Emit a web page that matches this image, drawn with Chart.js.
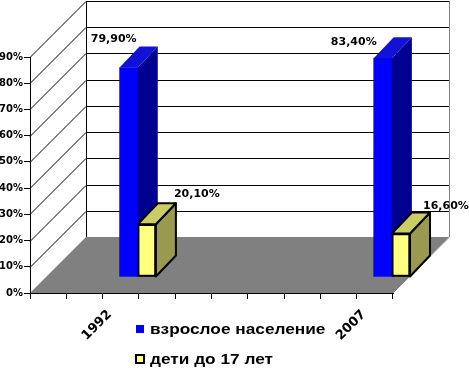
<!DOCTYPE html>
<html>
<head>
<meta charset="utf-8">
<script src="https://cdn.jsdelivr.net/npm/chart.js@4.4.1/dist/chart.umd.min.js"></script>
<style>
html, body { margin: 0; padding: 0; background: #fff; }
#chart { display: block; }
</style>
</head>
<body>
<canvas id="chart" width="469" height="368"></canvas>
<script>
// data
const slots = ['', '', '1992', '', '', '', '', '', '', '2007'];
const years = ['1992', '2007'];
const adults = [79.9, 83.4];
const children = [20.1, 16.6];
const seriesNames = ['взрослое население', 'дети до 17 лет'];
const yMax = 90;
const yStep = 10;

const FONT = '"DejaVu Sans", Arial, sans-serif';

// put each year's value in its slot on the axis
function bySlot(values) {
    return slots.map(function(s) {
        var i = years.indexOf(s);
        return i < 0 ? null : values[i];
    });
}

function fmt(v) {
    return v.toFixed(2).replace('.', ',') + '%';
}

var wall = { dx: 56, dy: -56 };    // back wall depth
var row = { dx: 17, dy: -16 };     // where the bar row stands
var deep = { dx: 20, dy: -21 };    // bar thickness

var faces = [
    { side: '#000090', top: '#1212d6', stroke: null },
    { side: '#99994f', top: '#cccc66', stroke: '#000' }
];

// label offsets from each bar's top
var labelShift = [
    [[-15, -28], [-29, -16]],
    [[50, -30], [45, -27]]
];

/*===== walls and floor =====*/
const wallsPlugin = {
    id: 'walls',
    beforeDraw(chart) {
        const ctx = chart.ctx;
        const a = chart.chartArea;
        const ys = chart.scales.y;
        const L = a.left, R = a.right, B = a.bottom, T = a.top;
        const dx = wall.dx, dy = wall.dy;

        ctx.save();
        // floor
        ctx.fillStyle = '#808080';
        ctx.beginPath();
        ctx.moveTo(L, B);
        ctx.lineTo(R, B);
        ctx.lineTo(R + dx, B + dy);
        ctx.lineTo(L + dx, B + dy);
        ctx.closePath();
        ctx.fill();

        ctx.strokeStyle = '#000';
        ctx.lineWidth = 1;
        ys.ticks.forEach(function(t) {
            if (t.value === 0) return;
            var py = Math.round(ys.getPixelForValue(t.value)) + 0.5;
            ctx.beginPath();
            ctx.moveTo(L, py);
            ctx.lineTo(L + dx, py + dy);
            ctx.lineTo(R + dx, py + dy);
            ctx.stroke();
        });

        // back wall edges
        ctx.beginPath();
        ctx.moveTo(L + dx + 0.5, T + dy);
        ctx.lineTo(L + dx + 0.5, B + dy);
        ctx.stroke();
        ctx.strokeStyle = '#808080';
        ctx.beginPath();
        ctx.moveTo(R + dx + 0.5, T + dy);
        ctx.lineTo(R + dx + 0.5, B + dy);
        ctx.lineTo(R, B);
        ctx.stroke();
        ctx.restore();
    }
};

function drawFaces(ctx, bar, f) {
    var dx = deep.dx, dy = deep.dy;
    var p = bar.getProps(['x', 'y', 'base', 'width'], true);
    var l = p.x - p.width / 2, r = p.x + p.width / 2;
    ctx.save();
    ctx.lineJoin = 'round';
    ctx.lineWidth = 2;
    ctx.strokeStyle = f.stroke || f.side;
    // side
    ctx.fillStyle = f.side;
    ctx.beginPath();
    ctx.moveTo(r, p.y);
    ctx.lineTo(r + dx, p.y + dy);
    ctx.lineTo(r + dx, p.base + dy);
    ctx.lineTo(r, p.base);
    ctx.closePath();
    ctx.fill();
    if (f.stroke) ctx.stroke();
    // top
    ctx.fillStyle = f.top;
    ctx.beginPath();
    ctx.moveTo(l, p.y);
    ctx.lineTo(l + dx, p.y + dy);
    ctx.lineTo(r + dx, p.y + dy);
    ctx.lineTo(r, p.y);
    ctx.closePath();
    ctx.fill();
    if (f.stroke) ctx.stroke();
    ctx.restore();
}

/*===== 3D bars =====*/
const depthPlugin = {
    id: 'depth',
    beforeDatasetsDraw(chart) {
        chart.ctx.save();
        chart.ctx.translate(row.dx, row.dy);
    },
    afterDatasetsDraw(chart) {
        const ctx = chart.ctx;
        // left series first, so its side goes behind the next front
        chart.data.datasets.forEach(function(ds, di) {
            var meta = chart.getDatasetMeta(di);
            ds.data.forEach(function(v, i) {
                if (v == null) return;
                if (di > 0) meta.data[i].draw(ctx);
                drawFaces(ctx, meta.data[i], faces[di]);
            });
        });
        ctx.restore();

        // value labels
        ctx.save();
        ctx.font = 'bold 11px ' + FONT;
        ctx.fillStyle = '#000';
        ctx.textAlign = 'center';
        ctx.textBaseline = 'middle';
        chart.data.datasets.forEach(function(ds, di) {
            var meta = chart.getDatasetMeta(di);
            var k = 0;
            ds.data.forEach(function(v, i) {
                if (v == null) return;
                var bar = meta.data[i];
                var s = labelShift[di][k++];
                ctx.fillText(fmt(v), bar.x + row.dx + s[0], bar.y + row.dy + s[1]);
            });
        });
        ctx.restore();
    },
    afterDraw(chart) {
        // legend, two rows under the floor
        const ctx = chart.ctx;
        ctx.save();
        ctx.textBaseline = 'middle';
        chart.data.datasets.forEach(function(ds, i) {
            var y = 329 + i * 30;
            ctx.fillStyle = ds.backgroundColor;
            ctx.fillRect(136, y - 4, 8, 8);
            if (ds.borderWidth) {
                ctx.strokeStyle = '#000';
                ctx.lineWidth = 2;
                ctx.strokeRect(136, y - 4, 8, 8);
            }
            ctx.save();
            ctx.translate(150, y + 1);
            ctx.scale(1.15, 1);
            ctx.font = 'bold 15px "Liberation Sans", Arial, sans-serif';
            ctx.fillStyle = '#000';
            ctx.fillText(ds.label, 0, 0);
            ctx.restore();
        });
        ctx.restore();
    }
};

new Chart(document.getElementById('chart'), {
    type: 'bar',
    data: {
        labels: slots,
        datasets: [{
            label: seriesNames[0],
            data: bySlot(adults),
            backgroundColor: '#0000ff',
            borderWidth: 0
        }, {
            label: seriesNames[1],
            data: bySlot(children),
            backgroundColor: '#ffff80',
            borderColor: '#000',
            borderWidth: 2,
            borderSkipped: false
        }]
    },
    options: {
        responsive: false,
        animation: false,
        layout: { padding: { top: 57, right: 76, left: 0, bottom: 0 } },
        datasets: { bar: { barPercentage: 1, categoryPercentage: 1, clip: false } },
        plugins: {
            legend: { display: false },
            tooltip: { enabled: false }
        },
        scales: {
            x: {
                grid: { drawOnChartArea: false, color: '#000', tickLength: 6, offset: true },
                border: { color: '#000' },
                ticks: {
                    autoSkip: false,
                    minRotation: 45,
                    maxRotation: 45,
                    labelOffset: -11,
                    padding: 8,
                    color: '#000',
                    font: { family: FONT, size: 13, weight: 'bold' }
                },
                afterFit: function(s) { s.height = 75; }
            },
            y: {
                min: 0,
                max: yMax,
                ticks: {
                    stepSize: yStep,
                    callback: function(v) { return v + '%'; },
                    color: '#000',
                    padding: 1,
                    font: { family: FONT, size: 10, weight: 'bold' }
                },
                grid: { drawOnChartArea: false, color: '#000', tickLength: 6 },
                border: { color: '#000' },
                afterFit: function(s) { s.width = 30; }
            }
        }
    },
    plugins: [wallsPlugin, depthPlugin]
});
</script>
</body>
</html>
